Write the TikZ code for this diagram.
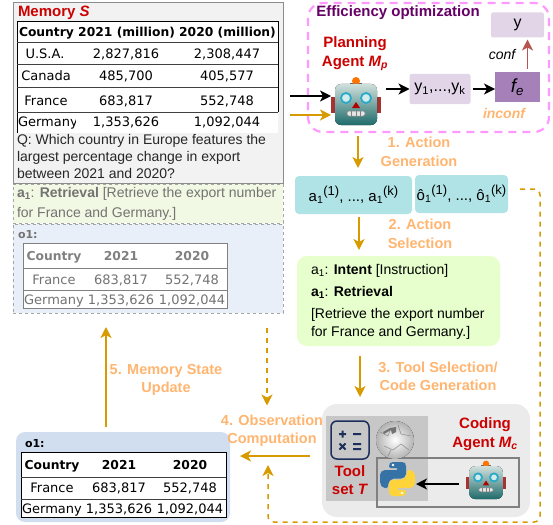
\documentclass[tikz,border=0pt]{standalone}
\usepackage{fontspec}
\setmainfont{Liberation Sans}
\newfontfamily\tabfont{DejaVu Sans}
\usetikzlibrary{arrows.meta}
\definecolor{flowcol}{HTML}{D79B00}
\definecolor{labcol}{HTML}{FFB570}
\definecolor{redcol}{HTML}{CC0000}
\definecolor{lilac}{HTML}{E1D5E7}
\definecolor{darklilac}{HTML}{A680B8}
\definecolor{teal1}{HTML}{B0E3E6}
\definecolor{navycol}{HTML}{1C2E5C}
\definecolor{pinkcol}{HTML}{FF99FF}
\definecolor{plumcol}{HTML}{660066}
\definecolor{brickcol}{HTML}{B85450}
\definecolor{greenfill}{HTML}{E6FFCC}
\definecolor{obsfill}{HTML}{D0DEF0}
\definecolor{fadegreen}{HTML}{F1F8E3}
\definecolor{fadeblue}{HTML}{E8EFF8}
\definecolor{pyblue}{HTML}{3572A5}
\definecolor{pyyellow}{HTML}{FFD43B}
\definecolor{headtop}{HTML}{CFE0DC}
\definecolor{headbot}{HTML}{1F6B6B}
\definecolor{eyering}{HTML}{2AA9C8}
\definecolor{eyein}{HTML}{D5ECEC}
\definecolor{earcol}{HTML}{A83232}
\newcommand{\fs}[1]{\fontsize{#1}{#1}\selectfont}
\newcommand{\supp}[1]{\raisebox{.42em}{\fs{13}#1}}
\tikzset{
  font={\fs{14}},
  every node/.append style={inner sep=0pt,outer sep=0pt},
  flowarrow/.style={draw=flowcol,line width=1.5pt,-{Stealth[length=11pt,width=11pt,inset=3pt]}},
  flowdash/.style={flowarrow,dash pattern=on 5pt off 5pt},
  blackarrow/.style={draw=black,line width=1.5pt,-{Stealth[length=11pt,width=11pt,inset=3pt]}},
  steplabel/.style={text=labcol,font={\fs{14.5}\bfseries},align=center},
  agentlabel/.style={text=redcol,font={\fs{15}\bfseries},align=center},
  tabtxt/.style={font={\tabfont\fs{13}},text height=10pt,text depth=2.5pt},
  tabhead/.style={font={\tabfont\fs{12.3}\bfseries},text height=10pt,text depth=2.5pt},
  tabline/.style={draw=#1,line width=1pt},
  iconbox/.style={minimum width=#1,minimum height=#1},
  pics/robot/.style={code={
    \fill[earcol] (-25,-3) rectangle (-20,13);
    \fill[earcol] (20,-3) rectangle (25,13);
    \fill[black!60] (-6,-17) rectangle (6,-15);
    \fill[orange!90!red] (0,-19) circle (4);
    \fill[top color=headtop,bottom color=headbot,rounded corners=6pt] (-21,-16) rectangle (21,25);
    \foreach \ex in {-10,10}{
      \fill[eyein,draw=eyering,line width=1.8pt] (\ex,-2) circle (5);}
    \fill[red!70!black] (0,2) -- (-4,8) -- (4,8) -- cycle;
    \fill[gray!20,draw=black!50,line width=.5pt,rounded corners=2pt] (-9,11) rectangle (9,16);
    \foreach \tx in {-4.5,0,4.5}{\draw[black!50,line width=.4pt] (\tx,11) -- (\tx,16);}
  }}
}
\begin{document}
\begin{tikzpicture}[x=1pt,y=-1pt]
\useasboundingbox (0,0) rectangle (553,524);
% memory
\node[draw=black!45,fill=black!5,line width=1pt,minimum width=270pt,minimum height=181pt] (membox) at (148,93) {};
\node[anchor=west,text=redcol,font={\fs{15}\bfseries}] (memtitle) at (18,13) {Memory \textit{S}};
\fill[white] (17,22) rectangle (278,133);
\draw[tabline=black] (17,133) -- (17,22) -- (278,22) -- (278,112);
\foreach \ly in {43,65,88,112}{\draw[tabline=black!75] (17,\ly) -- (278,\ly);}
\node[tabhead,anchor=west] (memhead) at (19,33) {Country 2021 (million) 2020 (million)};
\foreach \tx/\ty/\tt/\tn in {45/55/{U.S.A.}/mus,126/55/{2,827,816}/mua,227/55/{2,308,447}/mub,
  46/77/{Canada}/mca,126/77/{485,700}/mcb,227/77/{405,577}/mcc,
  46/102/{France}/mfa,126/102/{683,817}/mfb,227/102/{552,748}/mfc,
  126/123/{1,353,626}/mga,227/123/{1,092,044}/mgb}{
  \node[tabtxt] (\tn) at (\tx,\ty) {\tt};}
\begin{scope}
\clip (17,112) rectangle (75,133);
\node[tabtxt,anchor=west] (mgr) at (18,123) {Germany};
\end{scope}
\node[anchor=north west,align=left,text=black!85] (question) at (17,133.5) {\rule{0pt}{11pt}Q: Which country in Europe features the\\[3pt]largest percentage change in export\\[3pt]between 2021 and 2020?};
% faded action + observation
\node[draw=black!35,dashed,fill=fadegreen,minimum width=270pt,minimum height=39pt] (oldact) at (148,203.5) {};
\node[anchor=north west,align=left,text=black!55] (oldtext) at (17,186) {\rule{0pt}{11pt}\textbf{a\textsubscript{1}}: \textbf{Retrieval} [Retrieve the export number\\[6pt]for France and Germany.]};
\node[draw=black!35,dashed,fill=fadeblue,minimum width=270pt,minimum height=89pt] (oldobs) at (148,268.5) {};
\node[anchor=west,text=black!55,font={\tabfont\fs{11}\bfseries}] (oldobstitle) at (18,235) {o1:};
\fill[white] (23,243) rectangle (227,308);
\draw[tabline=black!50] (23,243) rectangle (227,308);
\foreach \ly in {268,290}{\draw[tabline=black!50] (23,\ly) -- (227,\ly);}
\foreach \tx/\ty/\tt/\tn in {54/257/{Country}/oha,121/257/{2021}/ohb,192/257/{2020}/ohc}{
  \node[tabhead,text=black!50] (\tn) at (\tx,\ty) {\tt};}
\foreach \tx/\ty/\tt/\tn in {54/280.5/{France}/ofa,121/280.5/{683,817}/ofb,192/280.5/{552,748}/ofc,
  54/301/{Germany}/oga,121/301/{1,353,626}/ogb,192/301/{1,092,044}/ogc}{
  \node[tabtxt,text=black!55] (\tn) at (\tx,\ty) {\tt};}
% efficiency
\draw[draw=pinkcol,line width=2.2pt,dash pattern=on 8pt off 6pt,rounded corners=15pt] (308,3) rectangle (549,132);
\node[text=plumcol,font={\fs{15}\bfseries}] (efftitle) at (398,13) {Efficiency optimization};
\node[agentlabel] (planlabel) at (355,53.5) {Planning\\[3.5pt]Agent \textit{M\textsubscript{p}}};
\node[iconbox=50pt] (planrobot) at (356,100) {};
\pic at (planrobot) {robot};
\node[fill=lilac,rounded corners=2pt,minimum width=61pt,minimum height=30pt,font={\fs{16}}] (ybox) at (440,89) {y\textsubscript{1},...,y\textsubscript{k}};
\node[fill=darklilac,minimum width=45pt,minimum height=30pt,font={\fs{19}\itshape}] (febox) at (517.5,87) {f\textsubscript{e}};
\node[fill=lilac,rounded corners=2pt,minimum width=53pt,minimum height=25pt,font={\fs{16}}] (yout) at (517.5,25) {y};
\node[font={\fs{14}\itshape}] (conflabel) at (502,54) {conf};
\node[text=labcol,font={\fs{14}\bfseries\itshape}] (inconflabel) at (504,113) {inconf};
\coordinate (inblack) at (290,96);
\coordinate (inorange) at (290,115);
\draw[blackarrow] (inblack) -- (inblack -| planrobot.west);
\draw[flowarrow] (inorange) -- (inorange -| planrobot.west);
\draw[blackarrow,shorten <=5pt] (planrobot.east |- ybox.west) -- (ybox.west);
\draw[blackarrow,shorten <=2pt] (ybox.east) -- (febox.west |- ybox.east);
\draw[draw=brickcol,line width=1.5pt,-{Stealth[length=11pt,width=11pt,inset=3pt]},shorten <=3pt,shorten >=2pt] ([xshift=10pt]febox.north) -- ([xshift=10pt]febox.north |- yout.south);
% steps down
\node[fill=teal1,rounded corners=4pt,minimum width=117pt,minimum height=38pt,font={\fs{15}}] (abox) at (353.5,195) {a\textsubscript{1}\supp{(1)}, ..., a\textsubscript{1}\supp{(k)}};
\node[fill=teal1,rounded corners=4pt,minimum width=93pt,minimum height=38pt,font={\fs{15}}] (ohatbox) at (461.5,194) {ô\textsubscript{1}\supp{(1)}, ..., ô\textsubscript{1}\supp{(k)}};
\node[fill=greenfill,rounded corners=10pt,minimum width=203pt,minimum height=90pt] (actbox) at (398.5,301) {};
\node[anchor=north west,align=left] (acttext) at (311,263) {\rule{0pt}{11pt}a\textsubscript{1}: \textbf{Intent} [Instruction]\\[8pt]\textbf{a\textsubscript{1}}: \textbf{Retrieval}\\[8pt][Retrieve the export number\\[4pt]for France and Germany.]};
\node[fill=black!8,rounded corners=15pt,minimum width=208pt,minimum height=113pt] (codebox) at (426,460.5) {};
\node[fill=black!22,minimum width=102pt,minimum height=85pt] (toolbox) at (377,458.5) {};
\node[draw=black!50,line width=1.4pt,minimum width=142pt,minimum height=49pt] (runbox) at (448,482.5) {};
% icons
\node[iconbox=38pt] (calcicon) at (350,440) {};
\draw[navycol,line width=1.5pt,rounded corners=6pt] (calcicon.south west) rectangle (calcicon.north east);
\draw[navycol,line width=2pt] (339,434) -- (346,434) (342.5,430.5) -- (342.5,437.5) (353,434) -- (361,434)
  (339.5,443.5) -- (345.5,449.5) (339.5,449.5) -- (345.5,443.5) (353,444) -- (361,444) (353,449) -- (361,449);
\node[iconbox=38pt] (wikiicon) at (395,440) {};
\fill[inner color=white,outer color=black!30] (wikiicon) circle (19);
\draw[black!45,line width=.5pt] (380,432) -- (388,436) -- (391,428) (398,425) -- (401,434) -- (411,436) (384,446) -- (393,450) -- (401,444) -- (409,450) (391,450) -- (388,456);
\fill[black!55] (384,434) -- (391,430) -- (392,434) -- (396,432) -- (396,427) -- (390,428) -- (383,432) -- cycle;
\node[iconbox=36pt] (pyicon) at (398,479) {};
\fill[pyblue,rounded corners=2pt] (391,462) -- (404,462) -- (406,464) -- (406,476) -- (403,478.5) -- (392,478.5) -- (388,483) -- (388,488) -- (383,488) -- (380,484) -- (380,473) -- (383,470) -- (398,470) -- (398,468) -- (389,468) -- (389,464) -- cycle;
\fill[pyyellow,rounded corners=2pt] (404,496) -- (391,496) -- (389,494) -- (389,482) -- (392,479.5) -- (403,479.5) -- (407,475) -- (407,470) -- (412,470) -- (415,474) -- (415,485) -- (412,488) -- (397,488) -- (397,490) -- (406,490) -- (406,494) -- cycle;
\fill[white] (393,465) circle (1.4) (402,493) circle (1.4);
\node[iconbox=40pt] (coderobot) at (486,479) {};
\pic[scale=.8] at (coderobot) {robot};
\node[agentlabel] (toollabel) at (350,480) {Tool\\[3.5pt]set \textit{T}};
\node[agentlabel] (codelabel) at (485,434) {Coding\\[3.5pt]Agent \textit{M\textsubscript{c}}};
\coordinate (callline) at (459,484);
\draw[blackarrow] (callline) -- (callline -| pyicon.east);
% bottom observation
\node[fill=obsfill,rounded corners=9pt,minimum width=214pt,minimum height=90pt] (obsbox) at (123,477) {};
\node[anchor=west,font={\tabfont\fs{11}\bfseries}] (obstitle) at (25,444) {o1:};
\fill[white] (21,452) rectangle (226,517);
\draw[tabline=black] (21,452) rectangle (226,517);
\foreach \ly in {477,499}{\draw[tabline=black!75] (21,\ly) -- (226,\ly);}
\foreach \tx/\ty/\tt/\tn in {52/465.5/{Country}/bha,119/465.5/{2021}/bhb,190/465.5/{2020}/bhc}{
  \node[tabhead] (\tn) at (\tx,\ty) {\tt};}
\foreach \tx/\ty/\tt/\tn in {52/489/{France}/bfa,119/489/{683,817}/bfb,190/489/{552,748}/bfc,
  52/510/{Germany}/bga,119/510/{1,353,626}/bgb,190/510/{1,092,044}/bgc}{
  \node[tabtxt] (\tn) at (\tx,\ty) {\tt};}
% step labels
\node[steplabel] (stepone) at (419,152) {1. Action\\[4pt]Generation};
\node[steplabel] (steptwo) at (420,234) {2. Action\\[4pt]Selection};
\node[steplabel] (stepthree) at (438,376.5) {3. Tool Selection/\\[4pt]Code Generation};
\node[steplabel] (stepfour) at (272,430.5) {4. Observation\\[4pt]Computation};
\node[steplabel] (stepfive) at (166,380) {5. Memory State\\[4pt]Update};
% flow arrows
\draw[flowarrow,shorten <=11pt,shorten >=8pt] ([xshift=2pt]planrobot.south) -- ([xshift=2pt]planrobot.south |- abox.north);
\draw[flowarrow,shorten <=3pt,shorten >=6pt] ([xshift=5.5pt]abox.south) -- ([xshift=5.5pt]abox.south |- actbox.north);
\draw[flowarrow,shorten <=10pt,shorten >=7pt] ([xshift=-38.5pt]actbox.south) -- ([xshift=-38.5pt]actbox.south |- codebox.north);
\coordinate (obsline) at (268,456);
\draw[flowarrow,shorten <=12pt,shorten >=10pt] (codebox.west |- obsline) -- (obsbox.east |- obsline);
\draw[flowarrow,shorten <=5pt,shorten >=14pt] ([xshift=-17pt]obsbox.north) -- ([xshift=-17pt]obsbox.north |- oldobs.south);
\coordinate (dashstart) at (267,313);
\draw[flowdash,shorten <=15pt,shorten >=9pt] (dashstart) -- (dashstart |- stepfour.north);
\coordinate (dashtr) at (540,189);
\coordinate (dashbr) at (540,522);
\coordinate (dashbl) at (268,522);
\draw[flowdash,rounded corners=6pt,shorten <=12pt,shorten >=9pt] (ohatbox.east |- dashtr) -- (dashtr) -- (dashbr) -- (dashbl) -- (obsline);
\end{tikzpicture}
\end{document}
